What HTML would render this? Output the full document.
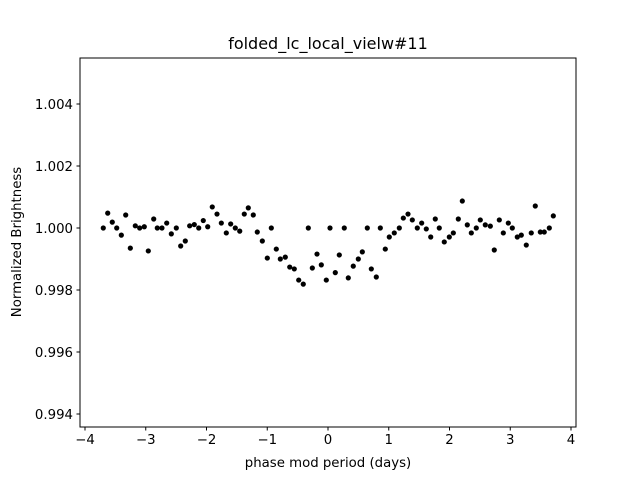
<!DOCTYPE html>
<html><head><meta charset="utf-8"><style>
body{margin:0;background:#fff;}
svg text{font-family:"DejaVu Sans","Liberation Sans",sans-serif;fill:#000;}
</style></head><body>
<svg id="chart" width="640" height="480" viewBox="0 0 640 480" xmlns="http://www.w3.org/2000/svg">
<rect width="640" height="480" fill="#fff"/>
<g id="marks"></g>
<g id="axes"></g>
</svg>
<script>
const phases=[-3.699,-3.626,-3.551,-3.478,-3.402,-3.330,-3.254,-3.172,-3.100,-3.024,-2.958,-2.869,-2.810,-2.733,-2.655,-2.579,-2.497,-2.425,-2.349,-2.277,-2.201,-2.128,-2.053,-1.980,-1.905,-1.827,-1.756,-1.674,-1.602,-1.526,-1.453,-1.378,-1.312,-1.230,-1.164,-1.081,-0.999,-0.933,-0.851,-0.785,-0.703,-0.630,-0.555,-0.482,-0.407,-0.324,-0.258,-0.181,-0.110,-0.028,0.033,0.120,0.186,0.268,0.334,0.416,0.499,0.565,0.647,0.713,0.795,0.861,0.943,1.009,1.091,1.174,1.240,1.317,1.388,1.470,1.542,1.618,1.691,1.766,1.832,1.914,1.997,2.063,2.145,2.211,2.293,2.359,2.441,2.507,2.589,2.672,2.737,2.820,2.886,2.968,3.034,3.116,3.182,3.264,3.346,3.412,3.495,3.560,3.643,3.709];
const brightness=[1.00000,1.00048,1.00019,1.00000,0.99977,1.00042,0.99935,1.00007,1.00000,1.00004,0.99926,1.00029,1.00000,1.00000,1.00016,0.99981,1.00000,0.99942,0.99958,1.00007,1.00011,1.00000,1.00024,1.00004,1.00068,1.00045,1.00016,0.99984,1.00013,1.00000,0.99990,1.00045,1.00065,1.00042,0.99987,0.99958,0.99903,1.00000,0.99932,0.99900,0.99906,0.99874,0.99868,0.99832,0.99819,1.00000,0.99871,0.99916,0.99881,0.99832,1.00000,0.99856,0.99913,1.00000,0.99839,0.99877,0.99900,0.99923,1.00000,0.99868,0.99842,1.00000,0.99932,0.99971,0.99984,1.00000,1.00032,1.00045,1.00026,1.00000,1.00016,0.99997,0.99971,1.00029,1.00000,0.99955,0.99971,0.99984,1.00029,1.00087,1.00010,0.99984,1.00000,1.00026,1.00010,1.00006,0.99929,1.00026,0.99984,1.00016,1.00000,0.99971,0.99977,0.99945,0.99984,1.00071,0.99987,0.99987,1.00000,1.00039];
const xTicks=[-4,-3,-2,-1,0,1,2,3,4];
const yTicks=[0.994,0.996,0.998,1.000,1.002,1.004];
const yTickLabels=["0.994","0.996","0.998","1.000","1.002","1.004"];

const L=80,R=576,T=58,B=427;
const X=v=>328+v*60.75;
const Y=v=>228-(v-1)*31000;
const NS="http://www.w3.org/2000/svg";
const marks=document.getElementById('marks'),axes=document.getElementById('axes');
function mk(tag,attrs,parent){const e=document.createElementNS(NS,tag);for(const k in attrs)e.setAttribute(k,attrs[k]);parent.appendChild(e);return e;}
phases.forEach((p,i)=>{
  const c=mk('circle',{cx:X(p),cy:Y(brightness[i]),r:2.6,fill:'#000'},marks);
  
  
});
const frame=mk('rect',{x:L,y:T,width:R-L,height:B-T,fill:'none',stroke:'#000','stroke-width':1},axes);


xTicks.forEach(t=>{
  const x=X(t);
  mk('line',{x1:x,x2:x,y1:B,y2:B+3.5,stroke:'#000'},axes);
  const tx=mk('text',{x:x,y:B+17,'text-anchor':'middle','font-size':'13.3'},axes);
  tx.textContent=(t<0?'\u2212'+(-t):String(t));
  
  
});
yTicks.forEach((t,i)=>{
  const y=Y(t);
  mk('line',{x1:L-3.5,x2:L,y1:y,y2:y,stroke:'#000'},axes);
  const tx=mk('text',{x:L-7,y:y+4.8,'text-anchor':'end','font-size':'13.3'},axes);
  tx.textContent=yTickLabels[i];
  
  
});
const title=mk('text',{x:328,y:49,'text-anchor':'middle','font-size':'16'},axes);
title.textContent='folded_lc_local_vielw#11';


const xl=mk('text',{x:328,y:467,'text-anchor':'middle','font-size':'13.3'},axes);
xl.textContent='phase mod period (days)';


const yl=mk('text',{x:0,y:0,'text-anchor':'middle','font-size':'13.3',transform:'translate(21,242) rotate(-90)'},axes);
yl.textContent='Normalized Brightness';


</script>
</body></html>
